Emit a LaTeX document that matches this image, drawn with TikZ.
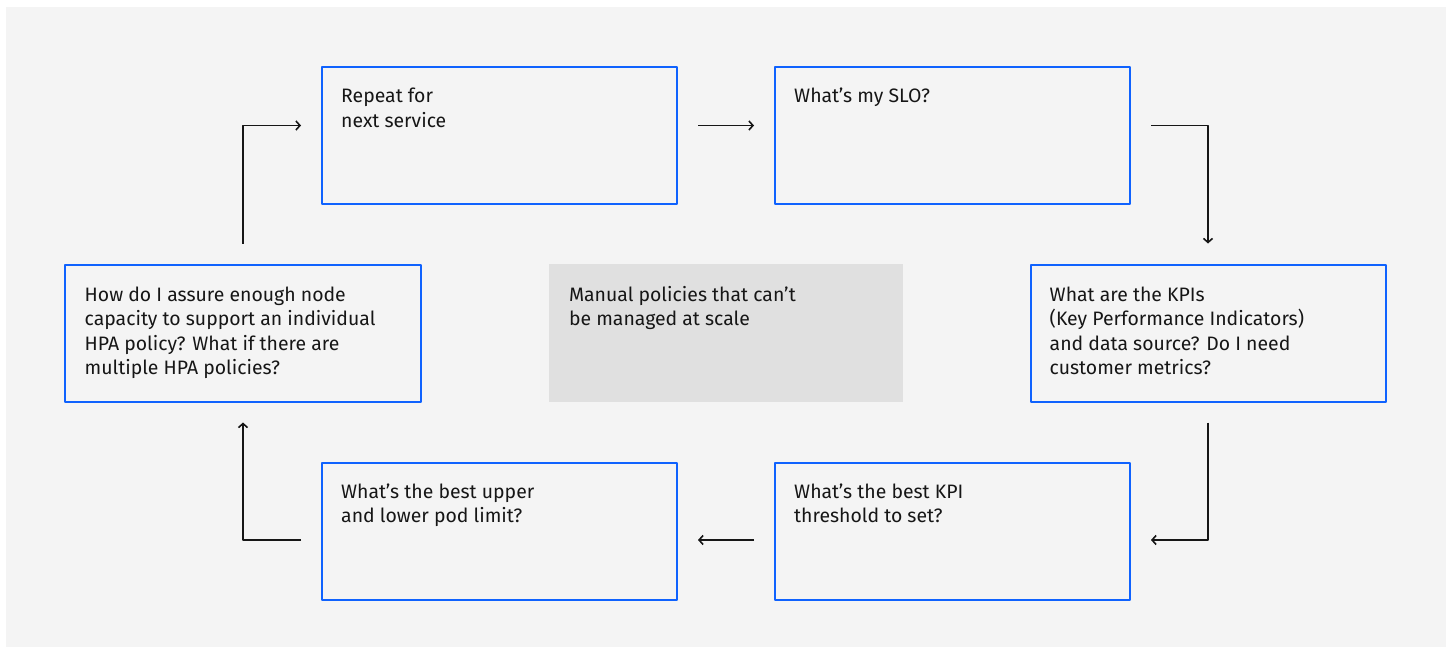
\documentclass[tikz,border=0pt]{standalone}
\usepackage{fontspec}
\setmainfont{Fira Sans}
\usetikzlibrary{positioning,arrows.meta}
\definecolor{ibmblue}{HTML}{0F62FE}
\definecolor{bggray}{HTML}{F4F4F4}
\definecolor{midgray}{HTML}{E0E0E0}
\definecolor{inkblack}{HTML}{161616}
\tikzset{
  stepbox/.style={draw=ibmblue, line width=2bp, minimum width=355bp, minimum height=137bp, inner sep=0pt},
  notebox/.style={fill=midgray, minimum width=354bp, minimum height=138bp, inner sep=0pt},
  txt/.style={align=left, inner sep=0pt, text=inkblack, font=\fontsize{19.5}{24.5}\selectfont},
  flow/.style={->, draw=inkblack, line width=1.6bp, shorten <=20bp, shorten >=20bp}
}
\begin{document}
\begin{tikzpicture}[x=1bp, y=-1bp, >={Straight Barb[length=4bp,width=9bp]}, line join=round]
\useasboundingbox (0,0) rectangle (1449,652);
\fill[bggray] (6,7) rectangle (1446,647);
% the six steps
\node[stepbox] (rep) at (499.5,135.5) {};
\node[stepbox] (slo) at (952.5,135.5) {};
\node[stepbox] (kpi) at (1208,333) {};
\node[stepbox] (thr) at (952.5,531) {};
\node[stepbox] (pod) at (499.5,531) {};
\node[stepbox] (hpa) at (243,333) {};
\node[notebox] (mid) at (726,333) {};
% texts
\node[txt, below right=22bp and 20bp of rep.north west] (reptxt) {Repeat for\\next service};
\node[txt, below right=22bp and 20bp of slo.north west] (slotxt) {What’s my SLO?};
\node[txt, below right=23bp and 20bp of kpi.north west] (kpitxt) {What are the KPIs\\(Key Performance Indicators)\\and data source? Do I need\\customer metrics?};
\node[txt, below right=22bp and 20bp of thr.north west] (thrtxt) {What’s the best KPI\\threshold to set?};
\node[txt, below right=22bp and 20bp of pod.north west] (podtxt) {What’s the best upper\\and lower pod limit?};
\node[txt, below right=23bp and 20bp of hpa.north west] (hpatxt) {How do I assure enough node\\capacity to support an individual\\HPA policy? What if there are\\multiple HPA policies?};
\node[txt, below right=22bp and 20bp of mid.north west] (midtxt) {Manual policies that can’t\\be managed at scale};
% the loop
\draw[flow] ([yshift=10bp]rep.east) -- ([yshift=10bp]slo.west);
\draw[flow] ([yshift=10bp]slo.east) -| (kpi.north);
\draw[flow] (kpi.south) |- ([yshift=-9bp]thr.east);
\draw[flow] ([yshift=-9bp]thr.west) -- ([yshift=-9bp]pod.east);
\draw[flow] ([yshift=-9bp]pod.west) -| (hpa.south);
\draw[flow] (hpa.north) |- ([yshift=10bp]rep.west);
\end{tikzpicture}
\end{document}
